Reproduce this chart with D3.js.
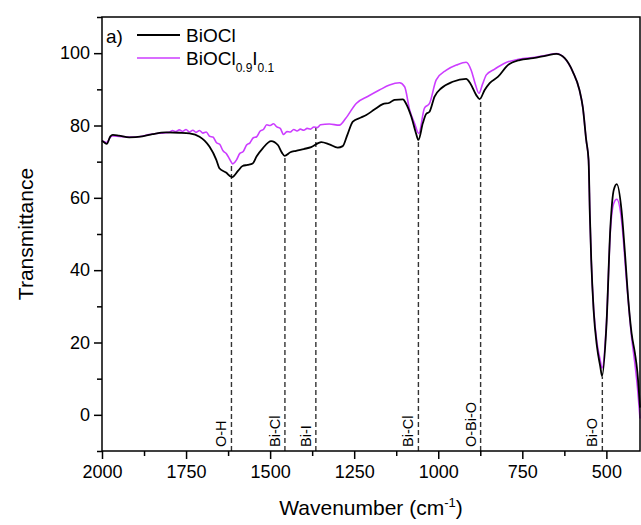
<!DOCTYPE html>
<html>
<head>
<meta charset="utf-8">
<script src="https://cdn.jsdelivr.net/npm/d3@7"></script>
<style>
	body { margin: 0; background: #fff; }
	svg { display: block; font-family: "Liberation Sans", Arial, sans-serif; }
</style>
</head>
<body>
<svg id="plot" width="641" height="525"></svg>
<script>
// FTIR spectra (wavenumber in cm-1, transmittance)
const WN_BIOCL = [2000, 1993, 1986, 1975, 1968, 1950, 1919, 1880, 1850, 1810, 1770, 1740, 1710, 1695, 1680, 1660, 1651, 1631, 1613, 1595, 1582, 1567, 1552, 1540, 1522, 1497, 1477, 1465, 1457, 1440, 1423, 1400, 1378, 1348, 1324, 1299, 1284, 1270, 1254, 1230, 1214, 1190, 1165, 1145, 1130, 1105, 1096, 1080, 1066, 1059, 1046, 1036, 1026, 1011, 991, 957, 917, 905, 887, 877, 862, 847, 822, 793, 758, 718, 679, 649, 624, 600, 580, 570, 560, 553, 549, 545, 538, 528, 518, 513, 500, 488, 478, 469, 455, 445, 435, 425, 415, 408, 400];
const T_BIOCL = [75.8, 75.3, 74.9, 77.0, 77.4, 77.2, 76.7, 77.0, 77.6, 78.1, 78.0, 77.8, 76.9, 75.8, 74.1, 70.5, 68.2, 67.0, 65.7, 67.5, 68.8, 69.1, 69.5, 71.5, 73.7, 75.7, 74.6, 72.5, 71.6, 72.6, 73.0, 73.5, 74.0, 75.4, 74.8, 73.9, 74.3, 77.5, 81.1, 82.2, 82.9, 84.4, 85.9, 86.3, 87.1, 87.2, 86.1, 82.4, 77.8, 76.0, 80.6, 83.2, 83.8, 88.0, 90.3, 92.1, 92.9, 91.7, 88.4, 87.3, 89.8, 91.7, 93.5, 96.7, 98.1, 98.6, 99.3, 99.8, 98.6, 94.9, 89.8, 85.0, 76.0, 70.5, 55.0, 42.8, 29.0, 18.9, 13.3, 10.7, 24.4, 52.0, 62.2, 63.8, 56.6, 45.0, 32.0, 22.5, 17.0, 12.0, 2.0];

const WN_BIOCLI = [2000, 1993, 1986, 1975, 1968, 1950, 1919, 1889, 1860, 1839, 1820, 1800, 1790, 1780, 1770, 1760, 1750, 1740, 1730, 1720, 1710, 1700, 1690, 1680, 1670, 1660, 1650, 1640, 1630, 1620, 1611, 1600, 1590, 1580, 1570, 1560, 1550, 1540, 1530, 1520, 1510, 1500, 1490, 1480, 1470, 1460, 1450, 1440, 1430, 1420, 1410, 1400, 1390, 1380, 1370, 1360, 1350, 1324, 1294, 1275, 1244, 1210, 1175, 1145, 1115, 1100, 1085, 1070, 1058, 1041, 1026, 1006, 976, 946, 917, 902, 890, 879, 868, 857, 832, 798, 758, 718, 679, 649, 624, 600, 580, 570, 560, 553, 549, 545, 538, 528, 518, 513, 500, 488, 478, 469, 455, 440, 425, 415, 408, 400];
const T_BIOCLI = [75.8, 75.5, 75.3, 76.8, 77.1, 77.0, 76.8, 76.9, 77.5, 77.8, 77.9, 78.1, 78.6, 78.3, 78.8, 78.4, 78.9, 78.2, 78.7, 78.1, 78.6, 77.9, 78.2, 77.0, 76.8, 75.3, 74.8, 73.0, 72.2, 70.6, 69.4, 70.5, 72.3, 72.8, 74.6, 75.2, 76.6, 76.9, 78.4, 78.9, 80.2, 80.0, 80.5, 79.6, 79.2, 77.5, 78.3, 78.2, 78.9, 78.5, 79.0, 78.7, 79.2, 79.0, 79.6, 79.4, 80.2, 80.4, 80.1, 82.0, 86.1, 88.0, 89.8, 91.2, 91.8, 90.7, 84.3, 80.5, 77.8, 84.8, 86.1, 92.6, 95.3, 96.7, 97.5, 95.3, 91.5, 88.9, 91.5, 94.0, 95.6, 97.4, 98.4, 98.8, 99.4, 99.9, 98.6, 94.9, 89.8, 85.0, 76.0, 70.5, 55.0, 42.8, 29.5, 20.0, 15.0, 12.9, 25.0, 51.0, 58.5, 59.6, 54.0, 37.0, 21.5, 14.0, 8.0, -1.0];

const SERIES_NAMES = ['BiOCl', 'BiOCl0.9I0.1'];
const SERIES_COLORS = ['#000000', '#cc3dff'];

// band assignments: position, label, transmittance where the dashed line stops
const BAND_WN = [1615, 1456, 1364, 1059, 874, 512];
const BAND_LABELS = ['O-H', 'Bi-Cl', 'Bi-I', 'Bi-Cl', 'O-Bi-O', 'Bi-O'];
const BAND_TOP = [69.2, 71.4, 79.3, 76.0, 87.5, 10.6];

const X_MAJOR = [2000, 1750, 1500, 1250, 1000, 750, 500];
const X_MINOR = [1875, 1625, 1375, 1125, 875, 625];
const Y_MAJOR = [0, 20, 40, 60, 80, 100];
const Y_MINOR = [-10, 10, 30, 50, 70, 90, 110];

const margin = { top: 17, left: 102, right: 1, bottom: 74 };

function draw() {
	const svg = d3.select('#plot');
	const W = +svg.attr('width'), H = +svg.attr('height');
	const w = W - margin.left - margin.right;
	const h = H - margin.top - margin.bottom;

	const x = d3.scaleLinear().domain([2000, 400]).range([0, w]);
	const y = d3.scaleLinear().domain([-10, 110]).range([h, 0]);

	const g = svg.append('g').attr('transform', `translate(${margin.left},${margin.top})`);

	// dashed band markers
	g.append('g').selectAll('line')
		.data(BAND_WN)
		.enter().append('line')
			.attr('x1', d => x(d)).attr('x2', d => x(d))
			.attr('y1', h)
			.attr('y2', (d, i) => y(BAND_TOP[i]))
			.attr('stroke', '#333')
			.attr('stroke-width', 1.4)
			.attr('stroke-dasharray', '5,3');

	g.append('g').selectAll('text')
		.data(BAND_WN)
		.enter().append('text')
			.attr('transform', d => `translate(${x(d) - 5},${h - 4}) rotate(-90)`)
			.attr('font-size', 14.5)
			.attr('fill', '#000')
			.text((d, i) => BAND_LABELS[i]);

	// spectra
	const line = d3.line()
		.x(d => x(d[0]))
		.y(d => y(d[1]))
		.curve(d3.curveMonotoneX);

	const seriesData = [
		d3.zip(WN_BIOCL, T_BIOCL),
		d3.zip(WN_BIOCLI, T_BIOCLI)
	];

	// magenta drawn first so the black trace sits over it where they overlap at the end
	[1, 0].forEach(i => {
		g.append('path')
			.datum(seriesData[i])
			.attr('fill', 'none')
			.attr('stroke', SERIES_COLORS[i])
			.attr('stroke-width', i === 0 ? 1.8 : 1.6)
			.attr('stroke-linejoin', 'round')
			.attr('d', line);
	});

	// frame
	g.append('rect')
		.attr('width', w).attr('height', h)
		.attr('fill', 'none')
		.attr('stroke', '#000')
		.attr('stroke-width', 1.5);

	// axes
	g.append('g').attr('transform', `translate(0,${h})`)
		.call(d3.axisBottom(x).tickValues(X_MAJOR).tickSize(8).tickPadding(6).tickFormat(d3.format('d')));
	g.append('g').attr('transform', `translate(0,${h})`)
		.call(d3.axisBottom(x).tickValues(X_MINOR).tickSize(5).tickFormat(''));
	g.append('g')
		.call(d3.axisLeft(y).tickValues(Y_MAJOR).tickSize(8).tickPadding(4));
	g.append('g')
		.call(d3.axisLeft(y).tickValues(Y_MINOR).tickSize(5).tickFormat(''));

	g.selectAll('.domain').remove();
	g.selectAll('.tick line').attr('stroke', '#000').attr('stroke-width', 1.5);
	g.selectAll('.tick text')
		.attr('font-family', '"Liberation Sans", Arial, sans-serif')
		.attr('font-size', 18)
		.attr('fill', '#000');

	// axis titles
	svg.append('text')
		.attr('transform', `translate(33,${margin.top + h / 2}) rotate(-90)`)
		.attr('text-anchor', 'middle')
		.attr('font-size', 21)
		.text('Transmittance');

	const xt = svg.append('text')
		.attr('x', margin.left + w / 2)
		.attr('y', 515)
		.attr('text-anchor', 'middle')
		.attr('font-size', 21);
	xt.append('tspan').text('Wavenumber (cm');
	xt.append('tspan').attr('font-size', 13).attr('dy', -8).text('-1');
	xt.append('tspan').attr('dy', 8).text(')');

	// panel tag and legend
	g.append('text')
		.attr('x', 4).attr('y', 26)
		.attr('font-size', 19)
		.text('a)');

	const legend = g.append('g');
	const rows = [{ y: 18, base: 25 }, { y: 41, base: 48 }];
	rows.forEach((r, i) => {
		legend.append('line')
			.attr('x1', 35).attr('x2', 78)
			.attr('y1', r.y).attr('y2', r.y)
			.attr('stroke', SERIES_COLORS[i])
			.attr('stroke-width', i === 0 ? 1.8 : 1.6);
	});
	legend.append('text')
		.attr('x', 84).attr('y', rows[0].base)
		.attr('font-size', 19)
		.text(SERIES_NAMES[0]);
	const lt = legend.append('text')
		.attr('x', 84).attr('y', rows[1].base)
		.attr('font-size', 19);
	lt.append('tspan').text('BiOCl');
	lt.append('tspan').attr('font-size', 12).attr('dy', 7).text('0.9');
	lt.append('tspan').attr('dy', -7).text('I');
	lt.append('tspan').attr('font-size', 12).attr('dy', 7).text('0.1');
}

draw();
</script>
</body>
</html>
